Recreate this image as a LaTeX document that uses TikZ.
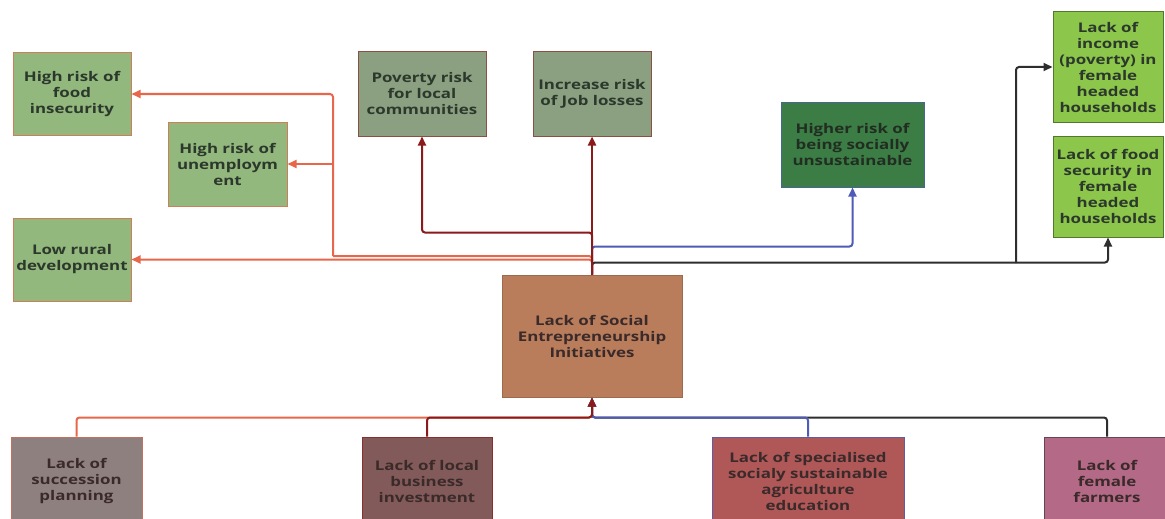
\documentclass[tikz,border=0pt]{standalone}
\usepackage{fontspec}
\setmainfont{Open Sans}[FakeStretch=1.27]
\usetikzlibrary{arrows.meta}
\definecolor{gmid}{HTML}{93B87E}
\definecolor{ggrey}{HTML}{8AA080}
\definecolor{gdark}{HTML}{3B7D45}
\definecolor{gbright}{HTML}{8CC64B}
\definecolor{socfill}{HTML}{B97D5C}
\definecolor{succfill}{HTML}{8F8080}
\definecolor{locfill}{HTML}{835A5A}
\definecolor{specfill}{HTML}{B05858}
\definecolor{femfill}{HTML}{B46987}
\definecolor{oline}{HTML}{E8664A}
\definecolor{drline}{HTML}{8B1A1A}
\definecolor{bline}{HTML}{4E5BB8}
\definecolor{kline}{HTML}{2E2E2E}
\definecolor{txt}{HTML}{2B382B}
\definecolor{btxt}{HTML}{3A2A2A}
\tikzset{
  box/.style={draw, line width=1pt, align=center, inner sep=2pt,
    font=\bfseries\fontsize{13.3}{16}\selectfont, text=txt},
  conn/.style={line width=2pt, rounded corners=3pt},
  tip/.style={-{Triangle[length=9pt,width=8pt]}},
}
\begin{document}
\begin{tikzpicture}[x=1pt,y=-1pt]
\clip (0,0) rectangle (1165,519);
\useasboundingbox (0,0) rectangle (1165,519);
\fill[white] (0,0) rectangle (1165,519);
% outcome boxes
\node[box, fill=gmid, draw=oline!70!gmid, minimum width=118pt, minimum height=82pt] (food) at (72,94) {High risk of\\food\\insecurity};
\node[box, fill=gmid, draw=oline!70!gmid, minimum width=119pt, minimum height=84pt] (unemp) at (227.5,164) {High risk of\\unemploym\\ent};
\node[box, fill=gmid, draw=oline!70!gmid, minimum width=118pt, minimum height=83pt] (rural) at (72,259.5) {Low rural\\development};
\node[box, fill=ggrey, draw=drline!60!ggrey, minimum width=128pt, minimum height=84pt] (pov) at (422,94) {Poverty risk\\for local\\communities};
\node[box, fill=ggrey, draw=drline!60!ggrey, minimum width=118pt, minimum height=84pt] (job) at (592,94) {Increase risk\\of Job losses};
\node[box, fill=gdark, draw=bline!70!gdark, minimum width=143pt, minimum height=85pt, text=txt!80!black] (soc2) at (852.5,144.5) {Higher risk of\\being socially\\unsustainable};
\node[box, fill=gbright, draw=gbright!60!black, minimum width=110pt, minimum height=110pt] (inc) at (1108,67) {Lack of\\income\\(poverty) in\\female\\headed\\households};
\node[box, fill=gbright, draw=gbright!60!black, minimum width=110pt, minimum height=101pt] (fs) at (1108,186.5) {Lack of food\\security in\\female\\headed\\households};
% central
\node[box, fill=socfill, draw=socfill!85!black, text=btxt, minimum width=180pt, minimum height=122pt] (soc) at (592,336) {Lack of Social\\Entrepreneurship\\Initiatives};
% causes
\node[box, fill=succfill, draw=oline!60!succfill, text=btxt, minimum width=131pt, minimum height=88pt] (succ) at (76.5,481) {Lack of\\succession\\planning};
\node[box, fill=locfill, draw=drline!70!locfill, text=btxt, minimum width=130pt, minimum height=88pt] (loc) at (427,481) {Lack of local\\business\\investment};
\node[box, fill=specfill, draw=bline!80!specfill, text=btxt, minimum width=192pt, minimum height=88pt] (spec) at (808,481) {Lack of specialised\\socialy sustainable\\agriculture\\education};
\node[box, fill=femfill, draw=kline!60!femfill, text=btxt, minimum width=126pt, minimum height=88pt] (fem) at (1107,481) {Lack of\\female\\farmers};
% top connectors
\coordinate (ob) at (333,256);
\draw[conn, oline] (soc.north) |- (ob);
\draw[conn, oline, tip] (ob) |- (food.east);
\draw[conn, oline, tip] (ob |- unemp.east) -- (unemp.east);
\draw[conn, oline, tip] (soc.north) |- (rural.east);
\draw[conn, bline, tip] (soc.north) -- ++(0,-28) -| (soc2.south);
\coordinate (kb) at (1016,263);
\draw[conn, kline, tip] (soc.north) -- ++(0,-12) -| (fs.south);
\draw[conn, kline, tip] (kb) |- (inc.west);
\draw[conn, drline, tip] (soc.north) -- ++(0,-42) -| (pov.south);
\draw[conn, drline, line width=2.5pt, tip] (soc.north) -- (job.south);
% bottom connectors
\draw[conn, oline, tip] (succ.north) -- ++(0,-19) -| (soc.south);
\draw[conn, kline, tip] (fem.north) -- ++(0,-19) -| (soc.south);
\draw[conn, bline, tip] (spec.north) -- ++(0,-19) -| (soc.south);
\draw[conn, drline, tip] (loc.north) -- ++(0,-19) -| (soc.south);
\end{tikzpicture}
\end{document}
